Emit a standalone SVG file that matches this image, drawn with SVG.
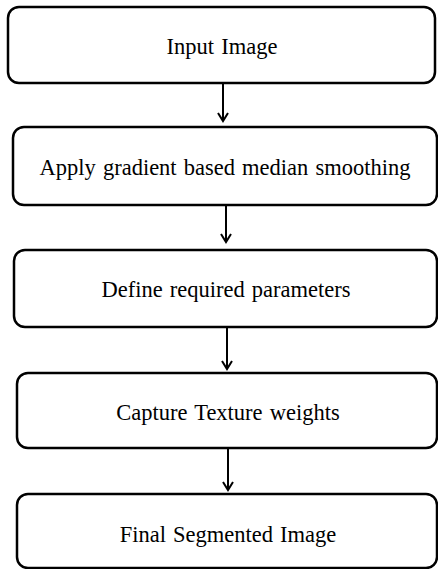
<svg xmlns="http://www.w3.org/2000/svg" width="438" height="569" viewBox="0 0 438 569">
<style>
.box{fill:#fff;stroke:#000;stroke-width:2.5}
.lbl{font-family:"Liberation Serif","Times New Roman",serif;font-size:22.5px;word-spacing:1.5px;fill:#000;text-anchor:middle}
.con{stroke:#000;stroke-width:2;fill:none}
</style>
<defs>
<marker id="ah" markerWidth="12" markerHeight="12" refX="10" refY="6" orient="auto" markerUnits="userSpaceOnUse" viewBox="0 0 12 12">
<path d="M2,1 L10,6 L2,11" fill="none" stroke="#000" stroke-width="2"/>
</marker>
</defs>
<rect width="438" height="569" fill="#fff"/>
<g id="connectors">
<line class="con" x1="223" y1="84" x2="223" y2="121" marker-end="url(#ah)"/>
<line class="con" x1="226" y1="206" x2="226" y2="242" marker-end="url(#ah)"/>
<line class="con" x1="227" y1="328" x2="227" y2="369" marker-end="url(#ah)"/>
<line class="con" x1="228" y1="449" x2="228" y2="490" marker-end="url(#ah)"/>
</g>
<g id="n1"><rect class="box" x="8" y="7" width="427" height="76" rx="11"/><text class="lbl" x="222" y="54">Input Image</text></g>
<g id="n2"><rect class="box" x="13" y="127" width="424" height="78" rx="11"/><text class="lbl" x="225" y="175">Apply gradient based median smoothing</text></g>
<g id="n3"><rect class="box" x="14" y="250" width="423" height="77" rx="11"/><text class="lbl" x="226" y="297">Define required parameters</text></g>
<g id="n4"><rect class="box" x="17" y="373" width="420" height="75" rx="11"/><text class="lbl" x="228" y="420">Capture Texture weights</text></g>
<g id="n5"><rect class="box" x="17" y="494" width="420" height="74" rx="11"/><text class="lbl" x="228" y="542">Final Segmented Image</text></g>
</svg>
